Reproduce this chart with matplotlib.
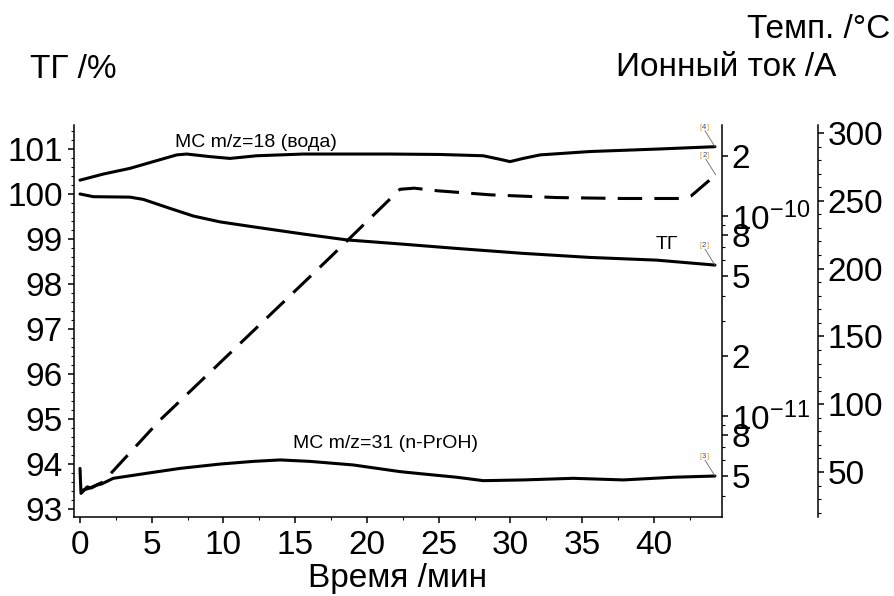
import matplotlib
matplotlib.use("Agg")
import matplotlib.pyplot as plt
from matplotlib.ticker import FixedLocator, MultipleLocator, NullFormatter

plt.rcParams['font.family'] = ['Liberation Sans', 'DejaVu Sans']
plt.rcParams['mathtext.fontset'] = 'custom'
plt.rcParams['mathtext.rm'] = 'Liberation Sans'
plt.rcParams['mathtext.it'] = 'Liberation Sans:italic'
plt.rcParams['mathtext.bf'] = 'Liberation Sans:bold'

# --- TG curve (mass, %) ---
tg_time = [0.0, 0.93, 3.48, 4.41, 6.27, 7.9, 9.76, 12.08, 15.56, 18.59,
           22.3, 26.25, 30.9, 35.54, 40.19, 44.25]
tg_mass = [100.0, 99.94, 99.93, 99.88, 99.68, 99.51, 99.38, 99.27, 99.11, 98.98,
           98.89, 98.79, 98.68, 98.59, 98.53, 98.42]

# --- MS m/z=18 (water), ion current, A ---
ms18_time = [0.0, 1.62, 3.48, 5.11, 6.74, 7.44, 9.06, 10.45, 12.31, 15.56,
             19.05, 21.6, 25.09, 28.1, 29.27, 29.97, 30.89, 32.06, 35.54, 40.19, 44.25]
ms18_current = [1.51e-10, 1.62e-10, 1.73e-10, 1.87e-10, 2.02e-10, 2.04e-10, 1.98e-10,
                1.94e-10, 2.00e-10, 2.04e-10, 2.04e-10, 2.04e-10, 2.03e-10, 2.00e-10,
                1.92e-10, 1.87e-10, 1.94e-10, 2.02e-10, 2.10e-10, 2.16e-10, 2.22e-10]

# --- MS m/z=31 (n-PrOH), ion current, A ---
ms31_time = [0.0, 0.07, 0.5, 0.8, 1.2, 1.5, 2.32, 4.65, 6.97, 9.76, 12.08, 13.94, 16.03,
             19.05, 22.3, 23.92, 26.25, 28.1, 30.9, 34.38, 37.86, 41.34, 44.25]
ms31_current = [5.47e-12, 4.10e-12, 4.42e-12, 4.37e-12, 4.52e-12, 4.57e-12, 4.88e-12,
                5.17e-12, 5.47e-12, 5.75e-12, 5.93e-12, 6.03e-12, 5.93e-12, 5.69e-12,
                5.27e-12, 5.13e-12, 4.94e-12, 4.75e-12, 4.79e-12, 4.88e-12, 4.79e-12,
                4.94e-12, 5.01e-12]

# --- Temperature program, °C ---
temp_time = [0.0, 0.7, 1.6, 5.57, 17.2, 22.3, 23.3, 24.9, 28.6, 33.2, 37.8, 42.0, 42.6, 44.3]
temp_value = [36.0, 38.2, 42.6, 88.2, 205.9, 258.5, 259.3, 257.4, 254.4, 252.4,
              251.7, 251.7, 253.7, 269.1]

time_ticks = [0, 5, 10, 15, 20, 25, 30, 35, 40]
tg_ticks = [93, 94, 95, 96, 97, 98, 99, 100, 101]
ion_ticks = [2e-10, 1e-10, 8e-11, 5e-11, 2e-11, 1e-11, 8e-12, 5e-12]
ion_labels = ["2", "$10^{-10}$", "8", "5", "2", "$10^{-11}$", "8", "5"]
ion_minor = [9e-11, 7e-11, 6e-11, 4e-11, 3e-11, 9e-12, 7e-12, 6e-12, 4e-12]
temp_ticks = [50, 100, 150, 200, 250, 300]

W, H = 894, 596
fig = plt.figure(figsize=(W / 100, H / 100), dpi=100)
x0, x1, y0, y1 = 74, 722, 125, 517
ax = fig.add_axes([x0 / W, 1 - y1 / H, (x1 - x0) / W, (y1 - y0) / H])
ax.patch.set_visible(False)
axi = ax.twinx()
axt = ax.twinx()

FS = 24
LW = 2.2
SPW = 1.1

# TG axis
ax.plot(tg_time, tg_mass, color='black', lw=LW, solid_capstyle='round')
ax.set_xlim(-0.418, 44.74)
ax.set_ylim(92.822, 101.533)
ax.xaxis.set_major_locator(FixedLocator(time_ticks))
ax.xaxis.set_minor_locator(MultipleLocator(2.5))
ax.yaxis.set_major_locator(FixedLocator(tg_ticks))
ax.yaxis.set_minor_locator(MultipleLocator(0.2))
ax.tick_params(axis='both', which='major', direction='out', length=4, width=SPW,
               labelsize=FS, pad=4)
ax.tick_params(axis='both', which='minor', direction='out', length=2.5, width=0.8)
ax.tick_params(axis='x', which='major', pad=5)
for s in ('top', 'right'):
    ax.spines[s].set_visible(False)
for s in ('left', 'bottom'):
    ax.spines[s].set_linewidth(SPW)

# Ion current axis (log)
axi.set_yscale('log')
axi.plot(ms18_time, ms18_current, color='black', lw=LW, solid_capstyle='round')
axi.plot(ms31_time, ms31_current, color='black', lw=LW, solid_capstyle='round')
axi.set_ylim(3.126e-12, 2.85e-10)
axi.yaxis.set_major_locator(FixedLocator(ion_ticks))
axi.yaxis.set_major_formatter(plt.FixedFormatter(ion_labels))
axi.yaxis.set_minor_locator(FixedLocator(ion_minor))
axi.yaxis.set_minor_formatter(NullFormatter())
axi.tick_params(axis='y', which='major', direction='out', length=4, width=SPW,
                labelsize=FS, pad=3)
axi.tick_params(axis='y', which='minor', direction='out', length=2.5, width=0.8)
for s in ('top', 'left', 'bottom'):
    axi.spines[s].set_visible(False)
axi.spines['right'].set_linewidth(SPW)

# Temperature axis
tline, = axt.plot(temp_time, temp_value, color='black', lw=LW)
tline.set_dashes((8, 4))
axt.set_ylim(16.8, 305.9)
axt.spines['right'].set_position(('axes', (818 - x0) / (x1 - x0)))
for s in ('top', 'left', 'bottom'):
    axt.spines[s].set_visible(False)
axt.spines['right'].set_linewidth(SPW)
axt.yaxis.set_major_locator(FixedLocator(temp_ticks))
axt.yaxis.set_minor_locator(MultipleLocator(10))
axt.tick_params(axis='y', which='major', direction='out', length=4, width=SPW,
                labelsize=FS, pad=3)
axt.tick_params(axis='y', which='minor', direction='out', length=2.5, width=0.8)

# Curve labels
lab_fs = 14
ax.text(12.26, 101.044, "МС m/z=18 (вода)", fontsize=lab_fs, ha='center', va='baseline')
ax.text(40.9, 98.78, "ТГ", fontsize=lab_fs, ha='center', va='baseline')
ax.text(21.29, 94.356, "МС m/z=31 (n-PrOH)", fontsize=lab_fs, ha='center', va='baseline')


# Segment markers at the curve ends: orange brackets, blue segment number
def segment_marker(axes, num, xy):
    dx, dy = -11, 16
    kw = dict(textcoords='offset pixels', fontsize=5.5, va='bottom')
    axes.annotate("", xy=xy, xytext=(dx + 1, dy), textcoords='offset pixels',
                  arrowprops=dict(arrowstyle='-', color='#666666', lw=0.6,
                                  shrinkA=0, shrinkB=0))
    axes.annotate(f"{num}", xy=xy, xytext=(dx, dy), color='#2a4a9a', ha='center', **kw)
    axes.annotate("[", xy=xy, xytext=(dx - 2.6, dy), color='#e09a30', ha='right', **kw)
    axes.annotate("]", xy=xy, xytext=(dx + 2.6, dy), color='#e09a30', ha='left', **kw)


segment_marker(axi, 4, (ms18_time[-1], ms18_current[-1]))
segment_marker(axt, 2, (temp_time[-1], temp_value[-1]))
segment_marker(ax, 2, (tg_time[-1], tg_mass[-1]))
segment_marker(axi, 3, (ms31_time[-1], ms31_current[-1]))

# Axis titles
fig.text(30 / W, 1 - 70 / H, "ТГ /%", fontsize=FS, ha='left', va='center')
fig.text(836 / W, 1 - 68 / H, "Ионный ток /А", fontsize=FS, ha='right', va='center')
fig.text(890 / W, 1 - 30 / H, "Темп. /°C", fontsize=FS, ha='right', va='center')
fig.text((305 + 490) / 2 / W, 1 - 578 / H, "Время /мин", fontsize=FS, ha='center',
         va='center')

fig.savefig("out.png", dpi=100)
